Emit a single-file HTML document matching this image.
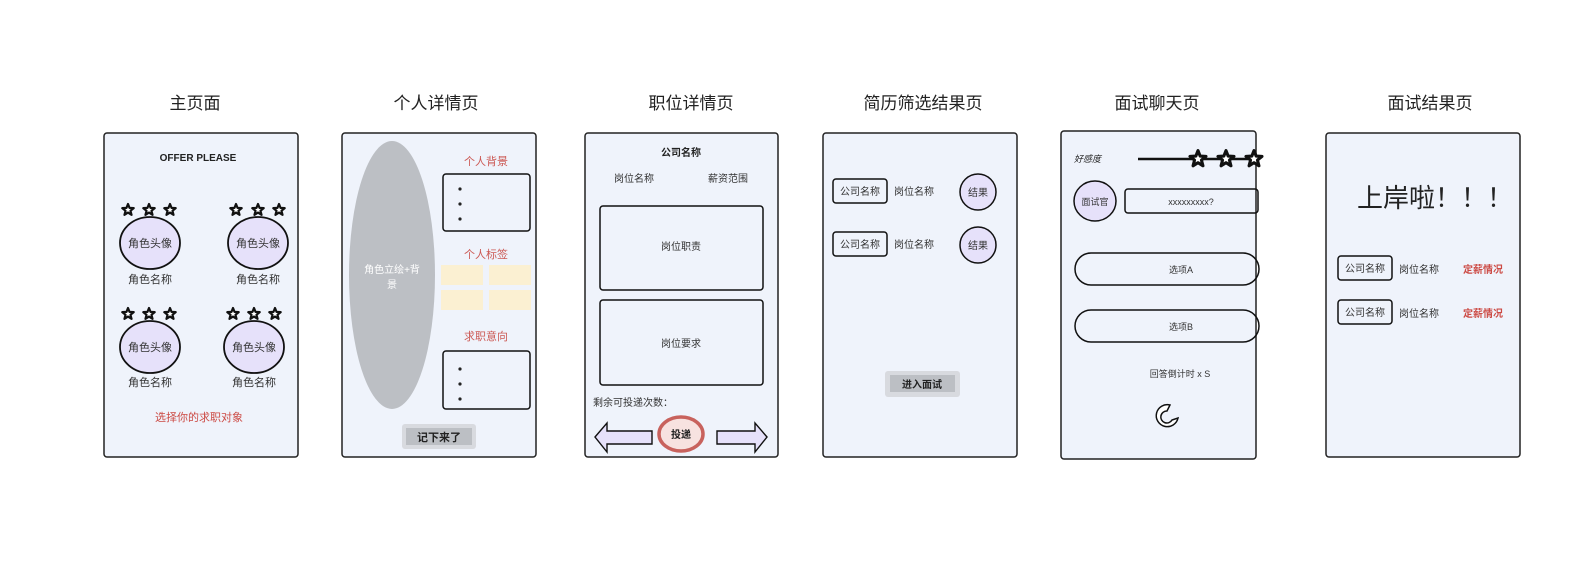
<!DOCTYPE html>
<html><head><meta charset="utf-8"><style>
html,body{margin:0;padding:0;background:#fff;}
text{font-family:"Liberation Sans","Noto Sans CJK SC",sans-serif;}
</style></head><body>
<svg width="1587" height="560" viewBox="0 0 1587 560" xmlns="http://www.w3.org/2000/svg">
<defs>
<polygon id="st" points="0,-6 1.53,-2.1 5.71,-1.85 2.47,0.8 3.53,4.85 0,2.6 -3.53,4.85 -2.47,0.8 -5.71,-1.85 -1.53,-2.1" fill="#fff" stroke="#111" stroke-width="2.2" stroke-linejoin="round"/>
</defs>
<g font-size="17" fill="#222" text-anchor="middle">
<text x="195" y="109">主页面</text>
<text x="436" y="109">个人详情页</text>
<text x="691" y="109">职位详情页</text>
<text x="923" y="109">简历筛选结果页</text>
<text x="1157" y="109">面试聊天页</text>
<text x="1430" y="109">面试结果页</text>
</g>
<g fill="#eff3fb" stroke="#222" stroke-width="1.5">
<rect x="104" y="133" width="194" height="324" rx="3"/>
<rect x="342" y="133" width="194" height="324" rx="3"/>
<rect x="585" y="133" width="193" height="324" rx="3"/>
<rect x="823" y="133" width="194" height="324" rx="3"/>
<rect x="1061" y="131" width="195" height="328" rx="3"/>
<rect x="1326" y="133" width="194" height="324" rx="3"/>
</g>
<!-- page 1 -->
<text x="198" y="161" font-size="10" font-weight="bold" text-anchor="middle" fill="#222">OFFER PLEASE</text>
<g fill="#e6e1fa" stroke="#111" stroke-width="1.8">
<ellipse cx="150" cy="243" rx="30" ry="26"/>
<ellipse cx="258" cy="243" rx="30" ry="26"/>
<ellipse cx="150" cy="347" rx="30" ry="26"/>
<ellipse cx="254" cy="347" rx="30" ry="26"/>
</g>
<g>
<use href="#st" x="128" y="210"/><use href="#st" x="149" y="210"/><use href="#st" x="170" y="210"/>
<use href="#st" x="236" y="210"/><use href="#st" x="258" y="210"/><use href="#st" x="279" y="210"/>
<use href="#st" x="128" y="314"/><use href="#st" x="149" y="314"/><use href="#st" x="170" y="314"/>
<use href="#st" x="233" y="314"/><use href="#st" x="254" y="314"/><use href="#st" x="275" y="314"/>
</g>
<g font-size="11" fill="#333" text-anchor="middle">
<text x="150" y="247">角色头像</text><text x="258" y="247">角色头像</text>
<text x="150" y="351">角色头像</text><text x="254" y="351">角色头像</text>
<text x="150" y="283">角色名称</text><text x="258" y="283">角色名称</text>
<text x="150" y="386">角色名称</text><text x="254" y="386">角色名称</text>
</g>
<text x="199" y="421" font-size="11" fill="#cc4a44" text-anchor="middle">选择你的求职对象</text>
<!-- page 2 -->
<ellipse cx="392" cy="275" rx="43" ry="134" fill="#bcbfc4"/>
<text x="392" y="273" font-size="10" fill="#fff" text-anchor="middle">角色立绘+背</text>
<text x="392" y="288" font-size="10" fill="#fff" text-anchor="middle">景</text>
<g font-size="11" fill="#cc5a55" text-anchor="middle">
<text x="486" y="165">个人背景</text><text x="486" y="258">个人标签</text><text x="486" y="340">求职意向</text>
</g>
<g fill="none" stroke="#111" stroke-width="1.5">
<rect x="443" y="174" width="87" height="57" rx="3"/>
<rect x="443" y="351" width="87" height="58" rx="3"/>
</g>
<g fill="#222"><circle cx="460" cy="189" r="1.6"/><circle cx="460" cy="204" r="1.6"/><circle cx="460" cy="219" r="1.6"/>
<circle cx="460" cy="369" r="1.6"/><circle cx="460" cy="384" r="1.6"/><circle cx="460" cy="399" r="1.6"/></g>
<g fill="#fbf0d2"><rect x="441" y="265" width="42" height="20"/><rect x="489" y="265" width="42" height="20"/><rect x="441" y="290" width="42" height="20"/><rect x="489" y="290" width="42" height="20"/></g>
<rect x="402" y="424" width="74" height="25" rx="3" fill="#d8dadf"/>
<rect x="406" y="428" width="66" height="17" fill="#bcbfc4"/>
<text x="439" y="441" font-size="11" font-weight="bold" fill="#222" text-anchor="middle">记下来了</text>
<!-- page 3 -->
<text x="681" y="156" font-size="10" font-weight="bold" fill="#222" text-anchor="middle">公司名称</text>
<g font-size="10" fill="#333" text-anchor="middle"><text x="634" y="182">岗位名称</text><text x="728" y="182">薪资范围</text>
<text x="681" y="250">岗位职责</text><text x="681" y="347">岗位要求</text></g>
<g fill="none" stroke="#111" stroke-width="1.5">
<rect x="600" y="206" width="163" height="84" rx="3"/>
<rect x="600" y="300" width="163" height="85" rx="3"/>
</g>
<text x="593" y="406" font-size="10" fill="#333">剩余可投递次数：</text>
<polygon points="595,437 607,423 607,431 652,431 652,444 607,444 607,452" fill="#e6e1fa" stroke="#111" stroke-width="1.4"/>
<polygon points="767,437 755,423 755,431 717,431 717,444 755,444 755,452" fill="#e6e1fa" stroke="#111" stroke-width="1.4"/>
<ellipse cx="681" cy="434" rx="22" ry="17" fill="#f7e2e0" stroke="#c8625d" stroke-width="3.5"/>
<text x="681" y="438" font-size="10" font-weight="bold" fill="#222" text-anchor="middle">投递</text>
<!-- page 4 -->
<g fill="none" stroke="#111" stroke-width="1.5">
<rect x="833" y="179" width="54" height="24" rx="3"/><rect x="833" y="232" width="54" height="24" rx="3"/>
</g>
<g fill="#e6e1fa" stroke="#111" stroke-width="1.5"><circle cx="978" cy="192" r="18"/><circle cx="978" cy="245" r="18"/></g>
<g font-size="10" fill="#333" text-anchor="middle">
<text x="860" y="195">公司名称</text><text x="860" y="248">公司名称</text>
<text x="914" y="195">岗位名称</text><text x="914" y="248">岗位名称</text>
<text x="978" y="196">结果</text><text x="978" y="249">结果</text></g>
<rect x="885" y="371" width="75" height="26" rx="3" fill="#d8dadf"/>
<rect x="890" y="375" width="65" height="17" fill="#bcbfc4"/>
<text x="922" y="388" font-size="10" font-weight="bold" fill="#222" text-anchor="middle">进入面试</text>
<!-- page 5 -->
<text x="1074" y="162" font-size="9" font-style="italic" fill="#222">好感度</text>
<line x1="1138" y1="159" x2="1252" y2="159" stroke="#111" stroke-width="2.5"/>
<g transform="translate(1198,159) scale(1.4)"><use href="#st"/></g>
<g transform="translate(1226,159) scale(1.4)"><use href="#st"/></g>
<g transform="translate(1254,159) scale(1.4)"><use href="#st"/></g>
<ellipse cx="1095" cy="201" rx="21" ry="20" fill="#e6e1fa" stroke="#111" stroke-width="1.5"/>
<text x="1095" y="205" font-size="9" fill="#333" text-anchor="middle">面试官</text>
<rect x="1125" y="189" width="133" height="24" rx="3" fill="none" stroke="#111" stroke-width="1.5"/>
<text x="1191" y="205" font-size="9" fill="#333" text-anchor="middle">xxxxxxxxx?</text>
<rect x="1075" y="253" width="184" height="32" rx="16" fill="none" stroke="#111" stroke-width="1.5"/>
<rect x="1075" y="310" width="184" height="32" rx="16" fill="none" stroke="#111" stroke-width="1.5"/>
<g font-size="9" fill="#333" text-anchor="middle"><text x="1181" y="273">选项A</text><text x="1181" y="330">选项B</text>
<text x="1180" y="377">回答倒计时 x S</text></g>
<path d="M1170,405 A11,11 0 1 0 1178,418 L1172,420 A6,6 0 1 1 1167,411 Z" fill="#fff" stroke="#111" stroke-width="1.5"/>
<!-- page 6 -->
<text x="1357" y="207" font-size="26" fill="#222">上岸啦！！！</text>
<g fill="none" stroke="#111" stroke-width="1.5">
<rect x="1338" y="256" width="54" height="24" rx="3"/><rect x="1338" y="300" width="54" height="24" rx="3"/>
</g>
<g font-size="10" fill="#333" text-anchor="middle">
<text x="1365" y="272">公司名称</text><text x="1365" y="316">公司名称</text>
<text x="1419" y="273">岗位名称</text><text x="1419" y="317">岗位名称</text></g>
<g font-size="10" font-weight="bold" fill="#cc4a44" text-anchor="middle">
<text x="1483" y="273">定薪情况</text><text x="1483" y="317">定薪情况</text></g>
</svg>
</body></html>
